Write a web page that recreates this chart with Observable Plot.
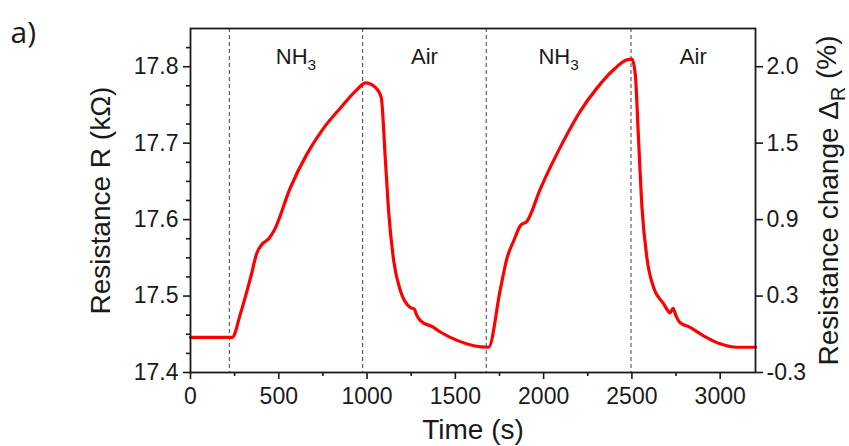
<!DOCTYPE html>
<html>
<head>
<meta charset="utf-8">
<script src="https://cdn.jsdelivr.net/npm/d3@7"></script>
<script src="https://cdn.jsdelivr.net/npm/@observablehq/plot@0.6"></script>
<style>
  html, body { margin: 0; padding: 0; background: #fff; }
  #chart svg { display: block; }
</style>
</head>
<body>
<div id="chart"></div>
<script>
// ---- data ----
const timeS = [0, 236, 283, 340, 377, 406, 443, 472, 566, 660, 755, 849, 943, 991, 1047, 1080,
  1104, 1122, 1151, 1189, 1245, 1268, 1279, 1302, 1377, 1415, 1510, 1604, 1688,
  1755, 1793, 1830, 1868, 1906, 1981, 2113, 2208, 2302, 2396, 2472, 2500,
  2519, 2538, 2557, 2585, 2623, 2679, 2700, 2715, 2733, 2750, 2770, 2830, 2906, 3000, 3094, 3200];
const resistance = [17.446, 17.446, 17.477, 17.524, 17.557, 17.568, 17.575, 17.585, 17.642, 17.686, 17.720, 17.746, 17.770, 17.779, 17.773, 17.760,
  17.677, 17.611, 17.546, 17.507, 17.485, 17.483, 17.476, 17.468, 17.459, 17.453, 17.442, 17.435, 17.433,
  17.509, 17.550, 17.572, 17.592, 17.598, 17.640, 17.703, 17.742, 17.772, 17.796, 17.809, 17.810,
  17.790, 17.703, 17.616, 17.550, 17.511, 17.490, 17.482, 17.478, 17.484, 17.474, 17.466, 17.459, 17.448, 17.4375, 17.433, 17.433];

const switchTimes = [220, 975, 1675, 2495];
const phaseLabels = ["NH3", "Air", "NH3", "Air"];
const timeEnd = 3200;

const xTicks = [0, 500, 1000, 1500, 2000, 2500, 3000];
const xMinorTicks = [250, 750, 1250, 1750, 2250, 2750];
const yTicks = [17.4, 17.5, 17.6, 17.7, 17.8];
const yMinorTicks = [17.425, 17.45, 17.475, 17.525, 17.55, 17.575, 17.625, 17.65, 17.675, 17.725, 17.75, 17.775, 17.825];
const rightTickLabels = ["-0.3", "0.3", "0.9", "1.5", "2.0"];

// ---- build tables ----
const series = timeS.map((t, i) => ({t, r: resistance[i]}));
const phaseBounds = switchTimes.concat([timeEnd]);
const phases = phaseLabels.map((label, i) => ({label, x: (phaseBounds[i] + phaseBounds[i + 1]) / 2}));

const ink = "#1a1a1a";
const font = "'Liberation Sans', Arial, sans-serif";

const chart = Plot.plot({
  width: 849,
  height: 446,
  marginLeft: 190,
  marginRight: 94,
  marginTop: 28,
  marginBottom: 74,
  style: {fontFamily: font, color: ink, background: "#fff"},
  x: {domain: [0, timeEnd]},
  y: {domain: [17.4, 17.85]},
  marks: [
    Plot.ruleX(switchTimes, {stroke: "#444", strokeWidth: 1, strokeDasharray: "4,3"}),
    Plot.line(series, {x: "t", y: "r", stroke: "#ff0000", strokeWidth: 3.2, curve: "monotone-x"}),
    Plot.frame({stroke: ink, strokeWidth: 1.8}),
    // x axis
    Plot.axisX({ticks: xTicks, tickSize: 7, tickPadding: 8, fontSize: 23, tickFormat: d3.format("d"), label: null, stroke: ink, strokeWidth: 1.6, fontFamily: font}),
    Plot.axisX({ticks: xMinorTicks, tickSize: 4, tickFormat: () => "", label: null, stroke: ink, strokeWidth: 1.6}),
    // left y axis
    Plot.axisY({anchor: "left", ticks: yTicks, tickSize: 7, tickPadding: 5, fontSize: 23, tickFormat: d3.format(".1f"), label: null, stroke: ink, strokeWidth: 1.6, fontFamily: font}),
    Plot.axisY({anchor: "left", ticks: yMinorTicks, tickSize: 4, tickFormat: () => "", label: null, stroke: ink, strokeWidth: 1.6}),
    // right y axis (relative change labels)
    Plot.axisY({anchor: "right", ticks: yTicks, tickSize: 7, tickPadding: 4, fontSize: 23, tickFormat: (d) => rightTickLabels[yTicks.indexOf(d)], label: null, stroke: ink, strokeWidth: 1.6, fontFamily: font}),
    // phase labels
    Plot.text(phases, {x: "x", text: "label", frameAnchor: "top", dy: 28, lineAnchor: "middle", fontSize: 22, fill: ink, fontFamily: font, className: "phase"}),
    // axis titles
    Plot.text(["Time (s)"], {frameAnchor: "bottom", dy: 58, lineAnchor: "middle", textAnchor: "middle", fontSize: 28, fill: ink, fontFamily: font}),
    Plot.text(["Resistance R (kΩ)"], {frameAnchor: "left", dx: -89, rotate: -90, textAnchor: "middle", lineAnchor: "middle", fontSize: 28, fill: ink, fontFamily: font}),
    Plot.text(["Resistance change ΔR (%)"], {frameAnchor: "right", dx: 74, rotate: -90, textAnchor: "middle", lineAnchor: "middle", fontSize: 28, fill: ink, fontFamily: font, className: "rtitle"}),
    Plot.text(["a)"], {frameAnchor: "top-left", dx: -180, dy: 5, textAnchor: "start", lineAnchor: "middle", fontSize: 30, fill: ink, fontFamily: "'Open Sans', sans-serif"})
  ]
});

// subscripts
d3.select(chart).selectAll("g.phase text").each(function() {
  const s = this.textContent;
  if (s === "NH3") {
    const t = d3.select(this);
    t.text(null);
    t.append("tspan").text("NH");
    t.append("tspan").attr("dy", "0.4em").attr("font-size", "0.7em").text("3");
  }
});
d3.select(chart).selectAll("g.rtitle text").each(function() {
  const t = d3.select(this);
  t.text(null);
  t.append("tspan").text("Resistance change Δ");
  t.append("tspan").attr("dy", "0.35em").attr("font-size", "0.7em").text("R");
  t.append("tspan").attr("dy", "-0.35em").text(" (%)");
});

document.getElementById("chart").appendChild(chart);
</script>
</body>
</html>
